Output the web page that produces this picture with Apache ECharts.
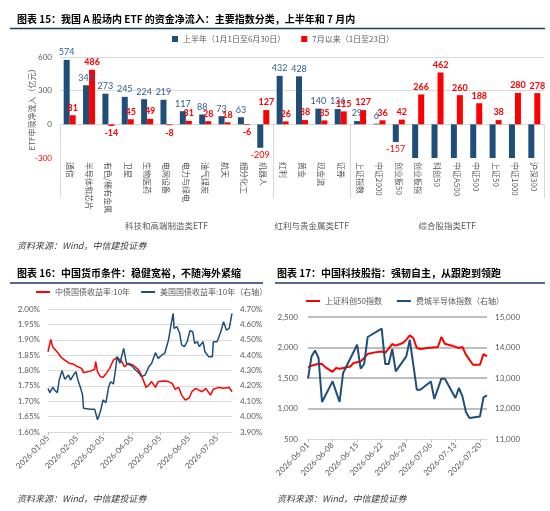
<!DOCTYPE html>
<html><head><meta charset="utf-8">
<script src="https://cdn.jsdelivr.net/npm/echarts@6/dist/echarts.min.js"></script>
<style>html,body{margin:0;padding:0;background:#fff}#c{width:550px;height:511px}</style>
</head><body><div id="c"></div>
<script>
// ---------- Figure 15: ETF net inflow (亿元) ----------
const etfCategories = ['通信','半导体和芯片','有色/稀有金属','卫星','生物医药','电网设备','电力与绿电','油气煤炭','航天','细分化工','机器人','红利','黄金','现金流','证券','上证指数','中证2000','创业板50','创业板指','科创50','中证A500','中证500','上证50','中证1000','沪深300'];
const etfH1 = [574,348,273,245,224,219,117,88,73,63,-209,432,428,140,136,29,6,-157,-420,-650,-900,-520,-480,-560,-1100];
const etfJuly = [81,486,-14,45,49,-8,31,28,18,-6,127,26,38,35,115,127,36,42,266,462,260,188,38,280,278];
const etfGroupNames = ['科技和高端制造类ETF','红利与贵金属类ETF','综合股指类ETF'];
const etfGroupFirst = [0,11,15];
const etfGroupLast = [10,14,24];
const etfSeriesNames = ['上半年（1月1日至6月30日）','7月以来（1日至23日）'];

// ---------- Figure 16: 10Y yields (%) ----------
const cnDates = ['2026-01-05','2026-01-08','2026-01-10','2026-01-16','2026-01-19','2026-01-23','2026-01-28','2026-02-01','2026-02-06','2026-02-10','2026-02-12','2026-02-19','2026-02-24','2026-02-25','2026-02-27','2026-03-02','2026-03-05','2026-03-09','2026-03-12','2026-03-16','2026-03-20','2026-03-25','2026-03-28','2026-04-01','2026-04-06','2026-04-12','2026-04-15','2026-04-20','2026-04-23','2026-04-26','2026-04-30','2026-05-03','2026-05-09','2026-05-14','2026-05-18','2026-05-21','2026-05-25','2026-05-28','2026-06-01','2026-06-05','2026-06-08','2026-06-12','2026-06-15','2026-06-19','2026-06-23','2026-06-28','2026-07-01','2026-07-07','2026-07-12','2026-07-18','2026-07-21'];
const cnYield = [1.861,1.901,1.877,1.856,1.843,1.834,1.823,1.821,1.812,1.807,1.793,1.798,1.804,1.829,1.796,1.780,1.778,1.793,1.807,1.834,1.843,1.829,1.812,1.823,1.818,1.802,1.785,1.745,1.753,1.764,1.745,1.764,1.766,1.764,1.758,1.739,1.745,1.720,1.704,1.710,1.731,1.742,1.737,1.731,1.742,1.720,1.739,1.745,1.742,1.745,1.731];
const usDates = ['2026-01-05','2026-01-07','2026-01-10','2026-01-12','2026-01-15','2026-01-17','2026-01-20','2026-01-23','2026-01-27','2026-01-29','2026-02-02','2026-02-04','2026-02-06','2026-02-09','2026-02-11','2026-02-12','2026-02-19','2026-02-24','2026-02-27','2026-03-02','2026-03-05','2026-03-08','2026-03-11','2026-03-13','2026-03-16','2026-03-18','2026-03-20','2026-03-23','2026-03-27','2026-03-30','2026-04-01','2026-04-05','2026-04-08','2026-04-12','2026-04-15','2026-04-19','2026-04-23','2026-04-26','2026-04-30','2026-05-03','2026-05-07','2026-05-10','2026-05-14','2026-05-17','2026-05-19','2026-05-20','2026-05-23','2026-05-26','2026-05-28','2026-05-31','2026-06-03','2026-06-06','2026-06-09','2026-06-11','2026-06-14','2026-06-16','2026-06-20','2026-06-22','2026-06-26','2026-06-30','2026-07-01','2026-07-05','2026-07-09','2026-07-12','2026-07-15','2026-07-18','2026-07-21'];
const usYield = [4.184,4.156,4.191,4.173,4.156,4.238,4.299,4.243,4.271,4.238,4.277,4.292,4.238,4.184,4.141,4.054,4.048,4.048,3.980,4.032,4.108,4.091,4.195,4.227,4.212,4.292,4.390,4.347,4.444,4.347,4.357,4.329,4.308,4.286,4.260,4.271,4.325,4.347,4.416,4.379,4.401,4.412,4.498,4.607,4.672,4.574,4.585,4.542,4.466,4.455,4.487,4.559,4.552,4.477,4.487,4.455,4.487,4.422,4.390,4.390,4.487,4.487,4.552,4.617,4.563,4.574,4.672];
const yieldTickDates = ['2026-01-05','2026-02-05','2026-03-05','2026-04-05','2026-05-05','2026-06-05','2026-07-05'];
const yieldNames = ['中债国债收益率:10年','美国国债收益率:10年（右轴）'];

// ---------- Figure 17: tech indices ----------
const starDates = ['2026-06-01','2026-06-02','2026-06-04','2026-06-05','2026-06-06','2026-06-07','2026-06-08','2026-06-09','2026-06-10','2026-06-11','2026-06-13','2026-06-14','2026-06-16','2026-06-17','2026-06-18','2026-06-20','2026-06-22','2026-06-23','2026-06-25','2026-06-26','2026-06-28','2026-06-29','2026-06-30','2026-07-01','2026-07-02','2026-07-03','2026-07-05','2026-07-08','2026-07-09','2026-07-10','2026-07-12','2026-07-14','2026-07-15','2026-07-16','2026-07-18','2026-07-20','2026-07-21','2026-07-22'];
const starIdx = [1674,1702,1735,1730,1674,1636,1599,1664,1653,1664,1690,1746,1772,1828,1894,1920,1936,1910,2057,2030,2074,2128,2198,2156,1992,1976,1992,2008,2172,2062,2030,1992,2008,1882,1718,1718,1894,1854];
const soxDates = ['2026-06-01','2026-06-02','2026-06-03','2026-06-04','2026-06-05','2026-06-08','2026-06-10','2026-06-11','2026-06-15','2026-06-16','2026-06-17','2026-06-18','2026-06-22','2026-06-23','2026-06-24','2026-06-25','2026-06-26','2026-06-29','2026-06-30','2026-07-02','2026-07-03','2026-07-06','2026-07-07','2026-07-09','2026-07-10','2026-07-13','2026-07-14','2026-07-15','2026-07-16','2026-07-17','2026-07-20','2026-07-21','2026-07-22'];
const soxIdx = [12977,13708,13905,13656,12213,12888,12213,13164,14092,13305,13459,14344,14616,13459,13459,13951,13216,13708,14256,12616,12616,12888,12311,12977,12977,12344,12672,12397,11885,11688,11741,12364,12429];
const techTickDates = ['2026-06-01','2026-06-08','2026-06-15','2026-06-22','2026-06-29','2026-07-06','2026-07-13','2026-07-20'];
const techNames = ['上证科创50指数','费城半导体指数（右轴）'];

const ts = s => { const p = s.split('-').map(Number); return new Date(p[0], p[1]-1, p[2]).getTime(); };
const pairs = (d, v) => d.map((x, i) => [x, v[i]]);

const FONT = 'Lato, "Noto Sans CJK SC", sans-serif';
const CJK = '"Noto Sans CJK SC", sans-serif';
const GRAY = '#595959';
const BLUE = '#1F4E79';
const RED = '#FF0000';
const NAVY = '#1F3864';

const chart = echarts.init(document.getElementById('c'), null, {width:550, height:511});

const option = {
  animation: false,
  textStyle: {fontFamily: FONT},
  grid: [
    {left:60, top:57, width:484, height:101},
    {left:48, top:309, width:184, height:123},
    {left:308, top:317, width:179, height:122}
  ],
  legend: [
    {data: etfSeriesNames, left:172, top:35, padding:0, icon:'rect', itemWidth:6, itemHeight:6, itemGap:16,
     textStyle:{fontSize:8, color:GRAY, fontFamily:CJK}},
    {data: yieldNames, left:36, top:288, padding:0, icon:'rect', itemWidth:14, itemHeight:2, itemGap:11,
     textStyle:{fontSize:8, color:GRAY, fontFamily:CJK}},
    {data: techNames, left:306, top:297, padding:0, icon:'rect', itemWidth:14, itemHeight:2, itemGap:15,
     textStyle:{fontSize:8, color:GRAY, fontFamily:CJK}}
  ],
  xAxis: [
    {type:'category', gridIndex:0, data: etfCategories,
     axisLine:{show:false},
     axisTick:{show:true, interval:(i) => etfGroupFirst.indexOf(i) >= 0, length:74, lineStyle:{color:'#d9d9d9'}},
     axisLabel:{rotate:-90, interval:0, fontSize:8, color:GRAY, margin:4, fontFamily:CJK}},
    {type:'time', gridIndex:1, min: ts(cnDates[0]), max: ts(cnDates[cnDates.length-1]),
     axisLine:{lineStyle:{color:'#d9d9d9'}},
     axisTick:{show:true, customValues: yieldTickDates.map(ts), length:3, lineStyle:{color:'#bfbfbf'}},
     axisLabel:{customValues: yieldTickDates.map(ts), rotate:45, fontSize:8, color:GRAY, formatter:'{yyyy}-{MM}-{dd}', margin:5},
     splitLine:{show:false}},
    {type:'time', gridIndex:2, min: ts(starDates[0]), max: ts(starDates[starDates.length-1]),
     axisLine:{lineStyle:{color:'#d9d9d9'}},
     axisTick:{show:true, customValues: techTickDates.map(ts), length:3, lineStyle:{color:'#bfbfbf'}},
     axisLabel:{customValues: techTickDates.map(ts), rotate:45, fontSize:8, color:GRAY, formatter:'{yyyy}-{MM}-{dd}', margin:5},
     splitLine:{show:false}}
  ],
  yAxis: [
    {type:'value', gridIndex:0, min:-300, max:600, interval:300,
     name:'ETF申赎净流入（亿元）', nameLocation:'middle', nameGap:24, nameMoveOverlap:false,
     nameTextStyle:{fontSize:8, color:GRAY, fontFamily:CJK},
     axisLine:{show:false}, axisTick:{show:false},
     axisLabel:{fontSize:8, margin:8, color:(v) => Number(v) < 0 ? RED : GRAY},
     splitLine:{lineStyle:{color:['rgba(0,0,0,0)','#d9d9d9','#d9d9d9','#d9d9d9']}}},
    {type:'value', gridIndex:1, min:1.6, max:2.0, interval:0.05,
     axisLine:{show:false}, axisTick:{show:false},
     axisLabel:{fontSize:8, color:GRAY, margin:8, formatter:(v) => v.toFixed(2) + '%'},
     splitLine:{lineStyle:{color:'#d9d9d9'}}},
    {type:'value', gridIndex:1, position:'right', min:3.9, max:4.7, interval:0.1,
     axisLine:{show:false}, axisTick:{show:false},
     axisLabel:{fontSize:8, color:GRAY, margin:8, formatter:(v) => v.toFixed(2) + '%'},
     splitLine:{show:false}},
    {type:'value', gridIndex:2, min:500, max:2500, interval:500,
     axisLine:{show:false}, axisTick:{show:false},
     axisLabel:{fontSize:8, color:GRAY, margin:10, formatter:(v) => v.toLocaleString('en-US')},
     splitLine:{lineStyle:{width:2, color:['rgba(0,0,0,0)','#bfbfbf','#bfbfbf','#bfbfbf','#bfbfbf']}}},
    {type:'value', gridIndex:2, position:'right', min:11000, max:15000, interval:1000,
     axisLine:{show:false}, axisTick:{show:false},
     axisLabel:{fontSize:8, color:GRAY, margin:8, formatter:(v) => v.toLocaleString('en-US')},
     splitLine:{show:false}}
  ],
  series: [
    {name: etfSeriesNames[0], type:'bar', xAxisIndex:0, yAxisIndex:0, barWidth:6, barGap:'0%', clip:true,
     itemStyle:{color:BLUE},
     label:{show:true, fontSize:9, distance:3, fontFamily:FONT},
     data: etfH1.map(v => ({value:v, label:{show: v >= -300, position: v < 0 ? 'bottom' : 'top', color: v < 0 ? RED : '#2E5E8E'}}))},
    {name: etfSeriesNames[1], type:'bar', xAxisIndex:0, yAxisIndex:0, barWidth:6, clip:true,
     itemStyle:{color:RED},
     label:{show:true, fontSize:9, fontWeight:'bold', color:RED, distance:3, fontFamily:FONT},
     data: etfJuly.map(v => ({value:v, label:{position: v < 0 ? 'bottom' : 'top'}}))},
    {name: yieldNames[0], type:'line', xAxisIndex:1, yAxisIndex:1, showSymbol:false,
     lineStyle:{color:RED, width:1.5}, itemStyle:{color:RED}, data: pairs(cnDates, cnYield)},
    {name: yieldNames[1], type:'line', xAxisIndex:1, yAxisIndex:2, showSymbol:false,
     lineStyle:{color:BLUE, width:1.5}, itemStyle:{color:BLUE}, data: pairs(usDates, usYield)},
    {name: techNames[0], type:'line', xAxisIndex:2, yAxisIndex:3, showSymbol:false,
     lineStyle:{color:RED, width:2}, itemStyle:{color:RED}, data: pairs(starDates, starIdx)},
    {name: techNames[1], type:'line', xAxisIndex:2, yAxisIndex:4, showSymbol:false,
     lineStyle:{color:BLUE, width:2}, itemStyle:{color:BLUE}, data: pairs(soxDates, soxIdx)}
  ]
};
chart.setOption(option);

// decorations: titles, rules, sources, and group labels placed via the category axis scale
const txt = (x, y, s, style) => ({type:'text', x:x, y:y, style:Object.assign({text:s, verticalAlign:'middle', fill:'#000', font:'bold 10px "Noto Sans CJK SC", sans-serif'}, style || {})});
const rule = (x1, x2, y) => ({type:'line', shape:{x1:x1, y1:y, x2:x2, y2:y}, style:{stroke:NAVY, lineWidth:1.6}});
const src = (x, y) => txt(x, y, '资料来源：Wind，中信建投证券', {font:'italic 9px "Noto Sans CJK SC", sans-serif', fill:'#404040'});

const elements = [
  txt(17, 19, '图表 15：我国 A 股场内 ETF 的资金净流入：主要指数分类，上半年和 7 月内'),
  rule(10, 545, 28.5),
  src(17, 246),
  txt(17, 273, '图表 16：中国货币条件：稳健宽裕，不随海外紧缩'),
  rule(10, 263, 283),
  src(17, 499),
  txt(277, 273, '图表 17：中国科技股指：强韧自主，从跟跑到领跑'),
  rule(275, 545, 283),
  src(277, 499)
];
etfGroupNames.forEach((g, i) => {
  const a = chart.convertToPixel({xAxisIndex:0}, etfCategories[etfGroupFirst[i]]);
  const b = chart.convertToPixel({xAxisIndex:0}, etfCategories[etfGroupLast[i]]);
  elements.push(txt((a + b) / 2, 226, g, {align:'center', font:'8.5px "Noto Sans CJK SC", sans-serif', fill:GRAY}));
});
chart.setOption({graphic:{elements: elements}});
</script>
</body></html>
